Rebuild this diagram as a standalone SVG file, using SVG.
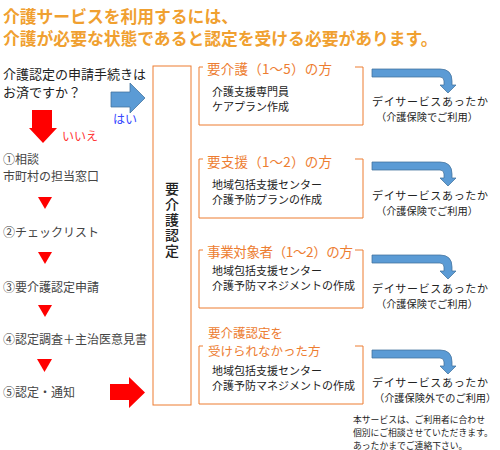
<svg xmlns="http://www.w3.org/2000/svg" width="500" height="450" viewBox="0 0 500 450">
<style>
text{font-family:"Noto Sans CJK JP","Noto Sans CJK SC",sans-serif}
.title{font-size:16.8px;font-weight:bold;fill:#F0A030}
.q{font-size:13px;fill:#222}
.step{font-size:12px;fill:#444}
.box{fill:none;stroke:#ED7D31;stroke-width:1}
.bt{font-size:13.5px;fill:#ED7D31}
.bt2{font-size:12.5px;fill:#ED7D31}
.body{font-size:11px;fill:#222}
.rt{font-size:11px;fill:#222}
.rt2{font-size:10.2px;fill:#222}
.note{font-size:8.8px;fill:#222}
.vt{font-size:14px;fill:#222;font-weight:500;writing-mode:vertical-rl;letter-spacing:1.3px}
.tri{fill:#FF0000}
</style>
<defs>
<path id="bent" d="M0,0 H68 Q80,0 80,12 V16 H84 L76,24 L68,16 H72 V12 Q72,8 68,8 H0 Z" fill="#5B9BD5" stroke="#41719C" stroke-width="0.75"/>
</defs>

<g id="title">
<text class="title" x="3" y="23">介護サービスを利用するには、</text>
<text class="title" x="3" y="45">介護が必要な状態であると認定を受ける必要があります。</text>
</g>

<g id="question">
<text class="q" x="3" y="79">介護認定の申請手続きは</text>
<text class="q" x="3" y="97">お済ですか？</text>
</g>

<g id="steps">
<text class="step" x="3" y="164">①相談</text>
<text class="step" x="3" y="181">市町村の担当窓口</text>
<text class="step" x="3" y="237">②チェックリスト</text>
<text class="step" x="3" y="292">③要介護認定申請</text>
<text class="step" x="3" y="344">④認定調査＋主治医意見書</text>
<text class="step" x="3" y="397">⑤認定・通知</text>
</g>

<g id="connectors">
<path d="M111,92 H130 V83 L145,98 L130,113 V107 H111 Z" fill="#5B9BD5" stroke="#41719C" stroke-width="0.75"/>
<text x="113" y="124" font-size="12" fill="#3344FF">はい</text>
<path d="M32,110 H52 V128 H57 L43,143 L29,128 H32 Z" fill="#FF0000"/>
<text x="62" y="141" font-size="12" fill="#FF3333">いいえ</text>
<path class="tri" d="M38,197 H52 L45,209 Z"/>
<path class="tri" d="M38,252 H52 L45,264 Z"/>
<path class="tri" d="M38,305 H52 L45,317 Z"/>
<path class="tri" d="M37,359 H52 L44.5,372 Z"/>
<path d="M110,384 H129 V377 L145,392.5 L129,408 V400 H110 Z" fill="#FF0000"/>
<use href="#bent" x="372" y="69"/>
<use href="#bent" x="372" y="162"/>
<use href="#bent" x="372" y="255"/>
<use href="#bent" x="372" y="350"/>
</g>

<g id="nintei">
<rect class="box" x="153" y="66" width="38" height="339"/>
<text class="vt" x="172" y="182">要介護認定</text>
</g>

<g id="box1">
<path class="box" d="M203,67 H199 V125 H363 V67 H355"/>
<text class="bt" x="207" y="74" textLength="125">要介護（1～5）の方</text>
<text class="body" x="212" y="95.5">介護支援専門員</text>
<text class="body" x="212" y="110.5">ケアプラン作成</text>
</g>

<g id="box2">
<path class="box" d="M203,159 H199 V218 H363 V159 H355"/>
<text class="bt" x="207" y="167" textLength="125">要支援（1～2）の方</text>
<text class="body" x="212" y="188.5">地域包括支援センター</text>
<text class="body" x="212" y="203.5">介護予防プランの作成</text>
</g>

<g id="box3">
<path class="box" d="M203,250 H199 V308 H363 V250 H355"/>
<text class="bt" x="207" y="257" textLength="146">事業対象者（1～2）の方</text>
<text class="body" x="212" y="275">地域包括支援センター</text>
<text class="body" x="212" y="290">介護予防マネジメントの作成</text>
</g>

<g id="box4">
<path class="box" d="M203,346 H199 V404 H363 V346 H355"/>
<text class="bt2" x="208" y="338">要介護認定を</text>
<text class="bt2" x="208" y="356">受けられなかった方</text>
<text class="body" x="212" y="374.5">地域包括支援センター</text>
<text class="body" x="212" y="389.5">介護予防マネジメントの作成</text>
</g>

<g id="results">
<text class="rt" x="372" y="105.5" textLength="116">デイサービスあったか</text>
<text class="rt2" x="376" y="120.5">（介護保険でご利用）</text>
<text class="rt" x="372" y="199.5" textLength="116">デイサービスあったか</text>
<text class="rt2" x="376" y="214.5">（介護保険でご利用）</text>
<text class="rt" x="372" y="292.5" textLength="116">デイサービスあったか</text>
<text class="rt2" x="376" y="307.5">（介護保険でご利用）</text>
<text class="rt" x="372" y="386.5" textLength="116">デイサービスあったか</text>
<text class="rt2" x="374" y="401.5">（介護保険外でのご利用）</text>
</g>

<g id="note">
<text class="note" x="353" y="422.5">本サービスは、ご利用者に合わせ</text>
<text class="note" x="353" y="435.5">個別にご相談させていただきます。</text>
<text class="note" x="353" y="448.5">あったかまでご連絡下さい。</text>
</g>
</svg>
